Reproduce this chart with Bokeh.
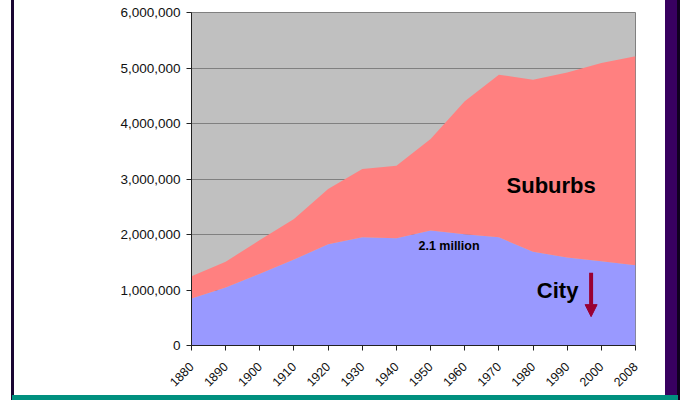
import math
from bokeh.plotting import figure
from bokeh.models import (ColumnDataSource, Range1d, FixedTicker, NumeralTickFormatter,
                          Arrow, NormalHead)
from bokeh.core.properties import value
from bokeh.embed import file_html
from bokeh.resources import INLINE

years = ["1880", "1890", "1900", "1910", "1920", "1930", "1940", "1950",
         "1960", "1970", "1980", "1990", "2000", "2008"]
city = [847000, 1047000, 1294000, 1549000, 1824000, 1951000, 1931000, 2072000,
        2003000, 1949000, 1688000, 1586000, 1518000, 1447000]
suburbs = [403000, 463000, 606000, 731000, 996000, 1229000, 1309000, 1648000,
           2397000, 2931000, 3102000, 3334000, 3572000, 3763000]

label_texts = ["Suburbs", "City", "2.1 million"]
label_x = [10.53, 10.72, 7.54]
label_y = [2880000, 990000, 1800000]
label_sizes = ["22px", "22px", "12.5px"]

arrow_x = 11.7
arrow_top = 1310000
arrow_bottom = 520000

xs = list(range(len(years)))
src = ColumnDataSource(dict(x=xs, city=city, suburbs=suburbs))

W, H = 688, 400
p = figure(width=W, height=H, output_backend="svg", toolbar_location=None,
           x_range=Range1d(0, len(years) - 1), y_range=Range1d(0, 6000000),
           min_border_left=191, min_border_right=53, min_border_top=12,
           min_border_bottom=55)
p.background_fill_color = "#C0C0C0"
p.border_fill_color = None
p.outline_line_color = "#808080"

# page decorations via CSS background of the host element
p.styles = {
    "background-color": "white",
    "background-image": ("linear-gradient(#00907F,#00907F),"
                         "linear-gradient(#1a0633,#1a0633),"
                         "linear-gradient(#380060,#380060),"
                         "linear-gradient(#10001f,#10001f)"),
    "background-size": "666px 5px, 3px 400px, 12px 400px, 3px 400px",
    "background-position": "12px 395px, 11px 0px, 665px 0px, 677px 0px",
    "background-repeat": "no-repeat",
}

p.varea_stack(["city", "suburbs"], x="x", source=src, color=["#9999FF", "#FF8080"])

p.xgrid.visible = False
p.ygrid.grid_line_color = "#808080"
p.ygrid.grid_line_width = 1
p.ygrid.level = "underlay"

yax = p.yaxis[0]
yax.ticker = FixedTicker(ticks=[0, 1e6, 2e6, 3e6, 4e6, 5e6, 6e6])
yax.formatter = NumeralTickFormatter(format="0,0")
yax.major_label_text_font = "Liberation Sans"
yax.major_label_text_font_size = "13.5px"
yax.major_label_text_color = "#111111"
yax.axis_line_color = "#222222"
yax.major_tick_line_color = "#222222"
yax.major_tick_out = 5
yax.major_tick_in = 0
yax.minor_tick_line_color = None
yax.major_label_standoff = 6

xax = p.xaxis[0]
xax.ticker = FixedTicker(ticks=xs)
xax.major_label_overrides = {i: y for i, y in enumerate(years)}
xax.major_label_orientation = math.pi / 4
xax.major_label_text_font = "Liberation Sans"
xax.major_label_text_font_size = "12.5px"
xax.major_label_text_color = "#111111"
xax.axis_line_color = "#222222"
xax.major_tick_line_color = "#222222"
xax.major_tick_out = 5
xax.major_tick_in = 0
xax.minor_tick_line_color = None
xax.major_label_standoff = 14

lsrc = ColumnDataSource(dict(x=label_x, y=label_y, t=label_texts, s=label_sizes))
p.text(x="x", y="y", text="t", source=lsrc, text_font=value("Liberation Sans"),
       text_font_style="bold", text_font_size="s", text_align="center",
       text_baseline="middle", text_color="black")

p.add_layout(Arrow(end=NormalHead(size=12, fill_color="#990033", line_color="#990033"),
                   x_start=arrow_x, y_start=arrow_top, x_end=arrow_x, y_end=arrow_bottom,
                   line_color="#990033", line_width=4))

open("out.html", "w").write(file_html(p, INLINE))
